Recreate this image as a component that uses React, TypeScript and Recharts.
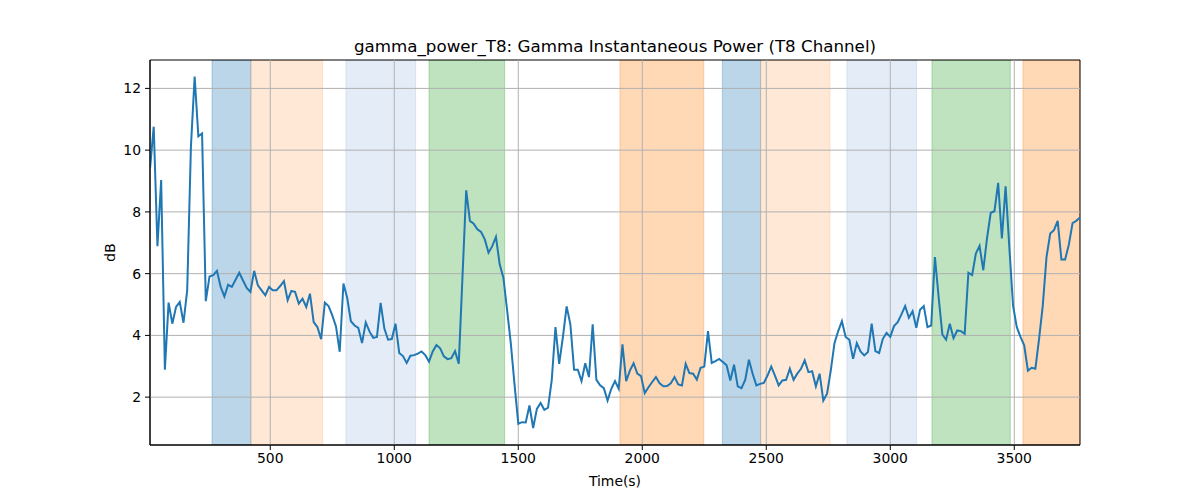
import React from 'react'
import {
  LineChart,
  Line,
  XAxis,
  YAxis,
  ReferenceArea,
  ReferenceLine,
} from 'recharts'

// sampling interval of the power trace, seconds
const SAMPLE_STEP = 15

// gamma power in dB, one value per sample (t = 15, 30, ... 3765)
const gammaPowerDb = [
  9.4, 10.76, 6.89, 9.03, 2.89, 5.06, 4.38, 4.92, 5.08, 4.41,
  5.46, 10.11, 12.38, 10.45, 10.54, 5.11, 5.91, 5.95, 6.09, 5.57,
  5.26, 5.64, 5.57, 5.8, 6.03, 5.78, 5.54, 5.41, 6.09, 5.62,
  5.46, 5.3, 5.57, 5.46, 5.46, 5.6, 5.76, 5.14, 5.44, 5.41,
  5.03, 5.19, 4.92, 5.35, 4.43, 4.27, 3.88, 5.06, 4.95, 4.65,
  4.29, 3.47, 5.68, 5.22, 4.46, 4.32, 4.24, 3.75, 4.42, 4.13,
  3.92, 3.95, 5.05, 4.22, 3.86, 3.88, 4.38, 3.43, 3.33, 3.11,
  3.34, 3.36, 3.41, 3.48, 3.36, 3.15, 3.48, 3.69, 3.58, 3.32,
  3.23, 3.26, 3.49, 3.08, 5.9, 8.7, 7.71, 7.62, 7.44, 7.35,
  7.11, 6.68, 6.89, 7.19, 6.3, 5.87, 4.81, 3.73, 2.4, 1.14,
  1.19, 1.18, 1.73, 1.0, 1.62, 1.81, 1.59, 1.66, 2.56, 4.27,
  3.08, 3.95, 4.94, 4.36, 2.89, 2.89, 2.52, 3.1, 2.65, 4.36,
  2.56, 2.38, 2.29, 1.89, 2.27, 2.52, 2.27, 3.71, 2.52, 2.86,
  3.1, 2.76, 2.68, 2.13, 2.32, 2.49, 2.65, 2.45, 2.35, 2.36,
  2.45, 2.65, 2.41, 2.38, 3.08, 2.78, 2.76, 2.57, 2.95, 2.99,
  4.14, 3.11, 3.17, 3.24, 3.14, 3.03, 2.54, 3.05, 2.35, 2.29,
  2.56, 3.21, 2.76, 2.38, 2.43, 2.46, 2.7, 2.99, 2.7, 2.38,
  2.54, 2.56, 2.92, 2.56, 2.76, 2.92, 3.19, 2.81, 2.84, 2.35,
  2.76, 1.89, 2.11, 2.86, 3.75, 4.14, 4.46, 3.95, 3.86, 3.24,
  3.75, 3.48, 3.35, 3.46, 4.38, 3.49, 3.43, 3.89, 4.08, 3.95,
  4.3, 4.43, 4.68, 4.95, 4.57, 4.78, 4.25, 4.83, 4.95, 4.27,
  4.32, 6.54, 5.24, 4.03, 3.86, 4.38, 3.91, 4.16, 4.14, 4.05,
  6.03, 5.95, 6.65, 6.9, 6.11, 7.14, 7.97, 8.02, 8.94, 7.14,
  8.83, 6.86, 4.97, 4.27, 3.95, 3.68, 2.86, 2.95, 2.92, 3.89,
  4.97, 6.54, 7.3, 7.41, 7.71, 6.46, 6.46, 6.94, 7.64, 7.71,
  7.82,
]

// shaded condition blocks: start, end (s) and kind
const blockStarts = [265, 422, 805, 1140, 1910, 2323, 2478, 2825, 3168, 3535]
const blockEnds = [422, 711, 1086, 1445, 2248, 2477, 2757, 3106, 3484, 3765]
const blockKinds = ['a', 'b', 'c', 'd', 'e', 'a', 'b', 'c', 'd', 'e']

const xTicks = [500, 1000, 1500, 2000, 2500, 3000, 3500]
const yTicks = [2, 4, 6, 8, 10, 12]

const X_DOMAIN: [number, number] = [15, 3765]
const Y_DOMAIN: [number, number] = [0.45, 12.92]

const blockStyle: Record<string, { fill: string; opacity: number }> = {
  a: { fill: '#1f77b4', opacity: 0.3 },
  b: { fill: '#ff7f0e', opacity: 0.17 },
  c: { fill: '#4b80ca', opacity: 0.15 },
  d: { fill: '#2ca02c', opacity: 0.3 },
  e: { fill: '#ff7f0e', opacity: 0.3 },
}

const data = gammaPowerDb.map((v, i) => ({ t: (i + 1) * SAMPLE_STEP, db: v }))

const FONT = '"DejaVu Sans", Verdana, sans-serif'
const tickStyle = { fontSize: 13.9, fill: '#000', fontFamily: FONT }
const GRID = '#b0b0b0'

export default function App() {
  return (
    <div style={{ position: 'absolute', left: 0, top: 0, width: 1200, height: 500, background: '#fff' }}>
      <LineChart
        width={1200}
        height={500}
        data={data}
        margin={{ top: 60, right: 120, bottom: 0, left: 0 }}
      >
        {blockStarts.map((s, i) => {
          const st = blockStyle[blockKinds[i]]
          return (
            <ReferenceArea
              key={'b' + i}
              x1={s}
              x2={blockEnds[i]}
              y1={Y_DOMAIN[0]}
              y2={Y_DOMAIN[1]}
              fill={st.fill}
              fillOpacity={st.opacity}
              stroke={st.fill}
              strokeOpacity={st.opacity}
              ifOverflow="hidden"
            />
          )
        })}
        {/* grid drawn over the shaded blocks, like matplotlib */}
        {xTicks.map((t) => (
          <ReferenceLine key={'gx' + t} x={t} stroke={GRID} strokeWidth={1} />
        ))}
        {yTicks.map((t) => (
          <ReferenceLine key={'gy' + t} y={t} stroke={GRID} strokeWidth={1} />
        ))}
        <ReferenceArea
          x1={X_DOMAIN[0]}
          x2={X_DOMAIN[1]}
          y1={Y_DOMAIN[0]}
          y2={Y_DOMAIN[1]}
          fill="none"
          stroke="#000"
          strokeWidth={1}
        />
        <XAxis
          dataKey="t"
          type="number"
          domain={X_DOMAIN}
          allowDataOverflow
          ticks={xTicks}
          height={55}
          tickSize={5}
          tickMargin={3}
          tick={tickStyle}
          stroke="#000"
        />
        <YAxis
          type="number"
          domain={Y_DOMAIN}
          allowDataOverflow
          ticks={yTicks}
          width={150}
          tickSize={5}
          tickMargin={4}
          tick={tickStyle}
          stroke="#000"
        />
        <Line
          type="linear"
          dataKey="db"
          stroke="#1f77b4"
          strokeWidth={2}
          dot={false}
          isAnimationActive={false}
        />
      </LineChart>
      <svg
        width={1200}
        height={500}
        style={{ position: 'absolute', left: 0, top: 0, pointerEvents: 'none' }}
      >
        <text x={615} y={52} textAnchor="middle" fontSize={16.7} fontFamily={FONT} fill="#000">
          gamma_power_T8: Gamma Instantaneous Power (T8 Channel)
        </text>
        <text x={615} y={486} textAnchor="middle" fontSize={13.9} fontFamily={FONT} fill="#000">
          Time(s)
        </text>
        <text
          x={115}
          y={252.5}
          textAnchor="middle"
          fontSize={13.9}
          fontFamily={FONT}
          fill="#000"
          transform="rotate(-90 115 252.5)"
        >
          dB
        </text>
      </svg>
    </div>
  )
}
